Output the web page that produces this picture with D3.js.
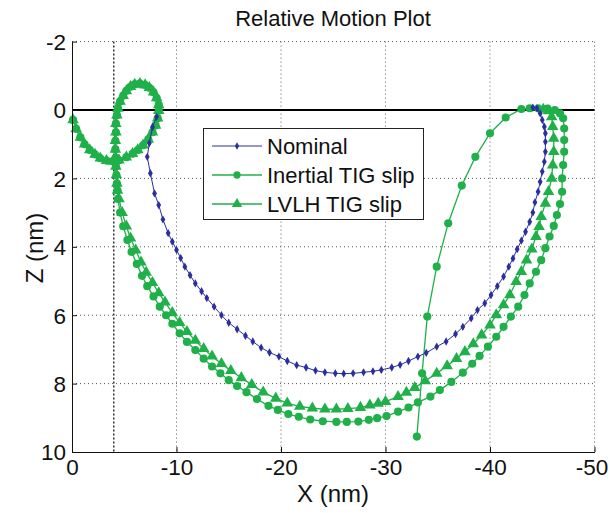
<!DOCTYPE html>
<html>
<head>
<meta charset="utf-8">
<script src="https://cdn.jsdelivr.net/npm/d3@7"></script>
<style>
  body { margin: 0; background: #fff; }
  svg { display: block; font-family: "Liberation Sans", Arial, sans-serif; }
</style>
</head>
<body>
<div class="chart"></div>
<script>
// axis ticks
const xTicks = [0, -10, -20, -30, -40, -50]
const zTicks = [-2, 0, 2, 4, 6, 8, 10]
const keepOutX = -4

// loop near the origin, shared by both slip cases
const loopPts = [[-0.1,0.29],[-0.4,0.55],[-0.8,0.8],[-1.2,1.0],[-1.7,1.17],[-2.2,1.3],[-2.7,1.41],[-3.3,1.48],
  [-3.9,1.5],[-4.5,1.47],[-5.2,1.38],[-5.8,1.28],[-6.3,1.17],[-6.8,1.03],[-7.3,0.86],[-7.7,0.65],[-8.0,0.45],
  [-8.2,0.24],[-8.3,0.02],[-8.3,-0.15],[-8.1,-0.35],[-7.8,-0.52],[-7.4,-0.65],[-7.0,-0.73],[-6.5,-0.77],
  [-6.0,-0.75],[-5.6,-0.68],[-5.2,-0.56],[-4.9,-0.42],[-4.6,-0.25],[-4.4,-0.05],[-4.3,0.15],[-4.2,0.4],
  [-4.2,0.65],[-4.15,0.9],[-4.15,1.15],[-4.2,1.4],[-4.2,1.65],[-4.25,1.9],[-4.3,2.15],[-4.35,2.35]]

const nominalPts = [[-8.1,0.2],[-7.7,0.5],[-7.4,0.97],[-7.2,1.37],[-7.5,1.85],[-7.9,2.44],[-8.3,2.78],[-8.7,3.2],
  [-9.2,3.6],[-9.6,3.85],[-10,4.09],[-10.4,4.33],[-10.8,4.58],[-11.3,4.83],[-11.8,5.07],[-12.4,5.3],[-12.9,5.5],
  [-13.6,5.75],[-14.3,6.0],[-15,6.22],[-15.8,6.41],[-16.6,6.6],[-17.3,6.77],[-18.1,6.95],[-18.9,7.09],
  [-19.8,7.21],[-20.6,7.34],[-21.5,7.46],[-22.4,7.53],[-23.3,7.62],[-24.2,7.67],[-25.2,7.7],[-26,7.71],
  [-26.9,7.7],[-27.9,7.67],[-28.8,7.64],[-29.6,7.6],[-30.6,7.53],[-31.4,7.45],[-32.2,7.34],[-33.1,7.21],
  [-33.9,7.1],[-34.9,6.92],[-35.8,6.77],[-36.7,6.55],[-37.4,6.34],[-38.2,6.09],[-38.8,5.85],[-39.5,5.65],
  [-40.1,5.41],[-40.7,5.15],[-41.3,4.87],[-41.8,4.58],[-42.2,4.34],[-42.6,4.07],[-43,3.82],[-43.4,3.56],
  [-43.8,3.27],[-44.1,3.0],[-44.3,2.7],[-44.6,2.39],[-44.8,2.1],[-45,1.8],[-45.2,1.51],[-45.3,1.22],
  [-45.3,0.93],[-45.3,0.68],[-45.2,0.49],[-45.0,0.29],[-44.8,0.1],[-44.5,-0.05],[-44.1,-0.07]]

const inertialPts = [[-4.4,2.6],[-4.6,3.0],[-4.9,3.4],[-5.3,3.8],[-5.7,4.15],[-6.2,4.5],[-6.7,4.85],[-7.2,5.15],
  [-7.8,5.45],[-8.4,5.75],[-9.0,6.0],[-9.6,6.25],[-10.3,6.53],[-11.0,6.78],[-11.8,7.02],[-12.6,7.27],
  [-13.4,7.5],[-14.2,7.7],[-15.0,7.9],[-15.8,8.07],[-16.7,8.25],[-17.7,8.45],[-18.8,8.65],[-19.7,8.77],
  [-20.7,8.89],[-21.7,8.97],[-22.8,9.05],[-24.0,9.1],[-25.3,9.12],[-26.3,9.12],[-27.4,9.11],[-28.4,9.06],
  [-29.2,9.01],[-30.1,8.95],[-31.2,8.82],[-32.2,8.7],[-33.1,8.55],[-34.3,8.38],[-35.2,8.19],[-36.3,7.95],
  [-37.4,7.68],[-38.3,7.42],[-39.0,7.19],[-39.8,6.92],[-40.6,6.63],[-41.3,6.34],[-42.0,6.04],[-42.7,5.75],
  [-43.3,5.41],[-43.8,5.07],[-44.4,4.73],[-44.9,4.39],[-45.3,4.04],[-45.7,3.7],[-46.1,3.39],[-46.4,3.07],
  [-46.7,2.75],[-46.9,2.39],[-46.9,2.0],[-47.0,1.61],[-47.1,1.22],[-47.1,0.88],[-47.1,0.54],[-47.0,0.24],
  [-46.7,0.1],[-46.2,0.0],[-45.5,-0.04],[-44.6,-0.05],[-43.8,-0.05],[-43.0,-0.03],[-41.5,0.22],[-40,0.68],
  [-38.6,1.37],[-37.3,2.21],[-36.0,3.31],[-34.9,4.58],[-34.0,6.04],[-33.5,7.7],[-33.0,9.55]]

const lvlhPts = [[-4.5,2.6],[-4.8,3.0],[-5.2,3.4],[-5.6,3.75],[-6.1,4.1],[-6.6,4.45],[-7.1,4.75],[-7.7,5.05],
  [-8.3,5.35],[-8.9,5.62],[-9.6,5.93],[-10.3,6.22],[-11.0,6.48],[-11.8,6.74],[-12.6,6.98],[-13.4,7.2],
  [-14.3,7.42],[-15.2,7.62],[-16.2,7.83],[-17.2,8.03],[-18.3,8.25],[-19.5,8.43],[-20.6,8.57],[-21.8,8.67],
  [-23.0,8.72],[-24.2,8.75],[-25.3,8.75],[-26.4,8.73],[-27.6,8.7],[-28.5,8.63],[-29.3,8.58],[-30.0,8.53],
  [-31.2,8.38],[-32.0,8.26],[-32.8,8.12],[-33.8,7.92],[-34.9,7.7],[-35.9,7.48],[-36.8,7.27],[-37.6,7.07],
  [-38.4,6.84],[-39.2,6.58],[-40.0,6.29],[-40.6,5.99],[-41.3,5.7],[-41.9,5.41],[-42.5,5.02],[-43.0,4.73],
  [-43.5,4.39],[-44.0,4.07],[-44.4,3.7],[-44.7,3.41],[-44.9,3.12],[-45.3,2.73],[-45.6,2.39],[-45.9,2.0],
  [-46.0,1.61],[-46.1,1.22],[-46.1,0.83],[-46.0,0.49],[-45.9,0.2],[-45.6,0.03],[-45.1,-0.02]]

const seriesNames = ["Nominal", "Inertial TIG slip", "LVLH TIG slip"]

const width = 610
const height = 513
const blue = "#2b2f9e"
const green = "#1fb04a"

const x = d3.scaleLinear().domain([0, -50]).range([72, 594.5])
const z = d3.scaleLinear().domain([-2, 10]).range([41.6, 452])

const svg = d3.select(".chart")
    .append("svg")
    .attr("width", width)
    .attr("height", height)

// dotted grid
const grid = svg.append("g")
    .attr("stroke", "#555")
    .attr("stroke-width", 1)
    .attr("stroke-dasharray", "1,3")
grid.selectAll(".gx")
    .data(xTicks.slice(1))
    .join("line")
    .attr("x1", d => x(d)).attr("x2", d => x(d))
    .attr("y1", z(-2)).attr("y2", z(10))
grid.selectAll(".gz")
    .data(zTicks.slice(0, -1))
    .join("line")
    .attr("x1", x(0)).attr("x2", x(-50))
    .attr("y1", d => z(d)).attr("y2", d => z(d))

// keep-out line
svg.append("line")
    .attr("x1", x(keepOutX)).attr("x2", x(keepOutX))
    .attr("y1", z(-2)).attr("y2", z(10))
    .attr("stroke", "#111")
    .attr("stroke-width", 1.3)
    .attr("stroke-dasharray", "2,2")

// z = 0 line
svg.append("line")
    .attr("x1", x(0)).attr("x2", x(-50))
    .attr("y1", z(0)).attr("y2", z(0))
    .attr("stroke", "#000")
    .attr("stroke-width", 1.8)

const line = d3.line().x(d => x(d[0])).y(d => z(d[1]))

const series = [
    {name: seriesNames[1], pts: loopPts.concat(inertialPts), color: green, sym: d3.symbolCircle, size: 52, lw: 1.3},
    {name: seriesNames[2], pts: loopPts.concat(lvlhPts), color: green, sym: d3.symbolTriangle, size: 58, lw: 1.3},
    {name: seriesNames[0], pts: nominalPts, color: blue, sym: d3.symbolDiamond, size: 20, lw: 1}
]

series.forEach(s => {
    const g = svg.append("g")
    g.append("path")
        .attr("d", line(s.pts))
        .attr("fill", "none")
        .attr("stroke", s.color)
        .attr("stroke-width", s.lw)
    g.selectAll("path.m")
        .data(s.pts)
        .join("path")
        .attr("class", "m")
        .attr("transform", d => `translate(${x(d[0])},${z(d[1])})`)
        .attr("d", d3.symbol(s.sym, s.size))
        .attr("fill", s.color)
})

// axes, ticks pointing inward
const xAxis = d3.axisBottom(x).tickValues(xTicks).tickSizeInner(-5).tickSizeOuter(0).tickPadding(7)
const zAxis = d3.axisLeft(z).tickValues(zTicks).tickSizeInner(-5).tickSizeOuter(0).tickPadding(6)

const gx = svg.append("g").attr("transform", `translate(0,${z(10)})`).call(xAxis)
const gz = svg.append("g").attr("transform", `translate(${x(0)},0)`).call(zAxis)
;[gx, gz].forEach(g => {
    g.selectAll("text").attr("font-size", 22.5).attr("fill", "#111").attr("font-family", "Liberation Sans, Arial")
    g.selectAll("line").attr("stroke", "#111")
    g.select(".domain").attr("stroke", "#111").attr("stroke-width", 1)
})
gx.selectAll("text").text(d => d === 0 ? "0" : String(d))
    .attr("dx", d => d === -50 ? -3 : 0)
gz.selectAll("text").text(d => String(d)).attr("dy", "0.35em")

// title and axis labels
svg.append("text")
    .attr("x", 333).attr("y", 26)
    .attr("text-anchor", "middle")
    .attr("font-size", 22)
    .attr("fill", "#111")
    .text("Relative Motion Plot")

svg.append("text")
    .attr("x", 333).attr("y", 502)
    .attr("text-anchor", "middle")
    .attr("font-size", 24)
    .attr("fill", "#111")
    .text("X (nm)")

svg.append("text")
    .attr("transform", "translate(43,248) rotate(-90)")
    .attr("text-anchor", "middle")
    .attr("font-size", 24)
    .attr("fill", "#111")
    .text("Z (nm)")

// legend
const legend = svg.append("g")
legend.append("rect")
    .attr("x", 203.5).attr("y", 128.5)
    .attr("width", 220).attr("height", 91)
    .attr("fill", "#fff")
    .attr("stroke", "#222")
    .attr("stroke-width", 1)

const legendRows = [series[2], series[0], series[1]]
legendRows.forEach((s, i) => {
    const y = 146 + i * 29
    legend.append("line")
        .attr("x1", 212).attr("x2", 262)
        .attr("y1", y).attr("y2", y)
        .attr("stroke", s.color)
        .attr("stroke-width", s.lw)
    legend.append("path")
        .attr("transform", `translate(237,${y})`)
        .attr("d", d3.symbol(s.sym, s.size * 0.8))
        .attr("fill", s.color)
    legend.append("text")
        .attr("x", 267).attr("y", y)
        .attr("dy", "0.35em")
        .attr("font-size", 22)
        .attr("fill", "#111")
        .text(s.name)
})
</script>
</body>
</html>
